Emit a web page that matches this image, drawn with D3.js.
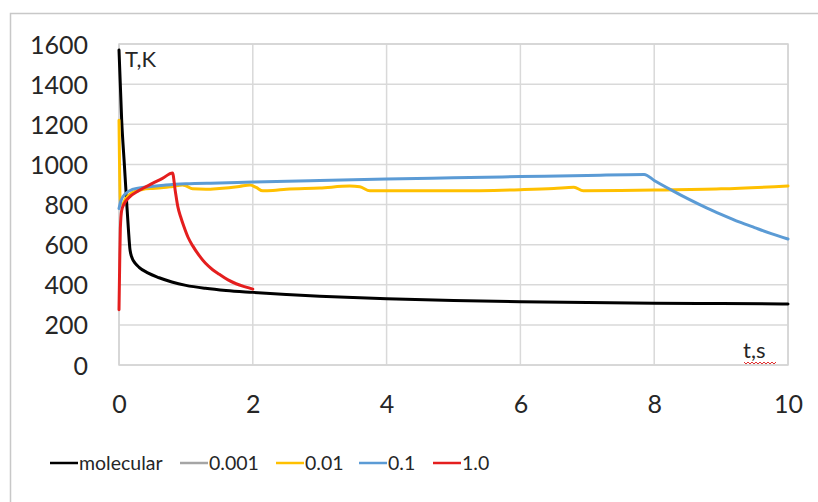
<!DOCTYPE html>
<html><head><meta charset="utf-8">
<script src="https://cdn.jsdelivr.net/npm/d3@7"></script>
<style>
html,body{margin:0;padding:0;background:#fff;}
svg{display:block;font-family:Lato, "Open Sans", sans-serif;}
</style></head>
<body><svg id="c" width="818" height="502"></svg>
<script>
// ---- data ----
const xTicks = [0, 2, 4, 6, 8, 10];
const yTicks = [0, 200, 400, 600, 800, 1000, 1200, 1400, 1600];
const seriesNames = ["molecular", "0.001", "0.01", "0.1", "1.0"];
const seriesColors = ["#000000", "#a5a5a5", "#ffc000", "#5b9bd5", "#e41e1e"];

const molecularT = [0, 0.04, 0.08, 0.115, 0.14, 0.165, 0.2, 0.24, 0.3, 0.43, 0.6, 0.79, 1.0, 1.29, 1.6, 2.0, 2.5, 3.0, 3.5, 4.0, 5.0, 6.0, 7.0, 8.0, 9.0, 10.0];
const molecularV = [1570, 1220, 1000, 808, 680, 573, 530, 508, 487, 459, 435, 414, 397, 382, 371, 362, 352, 343, 336, 330, 321, 315, 311, 308, 306, 304];

const s0001T = [];
const s0001V = [];

const s001T = [0, 0.02, 0.05, 0.1, 0.2, 0.35, 0.5, 0.6, 0.8, 0.95, 1.0, 1.1, 1.3, 1.5, 1.8, 1.96, 2.05, 2.15, 2.3, 2.5, 3.0, 3.45, 3.6, 3.75, 4.0, 5.0, 6.0, 6.5, 6.8, 6.94, 7.5, 8.0, 9.0, 10.0];
const s001V = [1220, 810, 800, 830, 860, 875, 880, 882, 890, 897, 893, 878, 876, 880, 890, 897, 885, 868, 870, 876, 882, 892, 888, 868, 868, 868, 874, 880, 886, 869, 870, 872, 878, 892];

const s01T = [0, 0.03, 0.1, 0.2, 0.4, 0.7, 1.0, 1.5, 2.0, 3.0, 4.0, 5.0, 6.0, 7.0, 7.85, 8.0, 8.28, 8.5, 8.79, 9.0, 9.28, 9.5, 9.75, 10.0];
const s01V = [780, 820, 855, 875, 887, 897, 903, 907, 912, 920, 927, 933, 939, 945, 950, 920, 868, 829, 782, 751, 712, 685, 655, 628];

const s10T = [0, 0.01, 0.02, 0.04, 0.08, 0.15, 0.3, 0.5, 0.65, 0.8, 0.84, 0.88, 0.92, 0.97, 1.03, 1.1, 1.2, 1.29, 1.4, 1.5, 1.63, 1.75, 1.9, 2.0];
const s10V = [275, 500, 680, 770, 805, 835, 870, 905, 930, 957, 870, 788, 740, 690, 638, 595, 545, 508, 475, 452, 424, 405, 388, 378];

const seriesT = [molecularT, s0001T, s001T, s01T, s10T];
const seriesV = [molecularV, s0001V, s001V, s01V, s10V];

// ---- layout ----
const svg = d3.select("#c");
const L = 119, R = 788, T = 44, B = 365;
const x = d3.scaleLinear().domain([0, 10]).range([L, R]);
const y = d3.scaleLinear().domain([0, 1600]).range([B, T]);

// outer chart border
svg.append("rect").attr("x", 10.5).attr("y", 13.5).attr("width", 830).attr("height", 520)
  .attr("fill", "none").attr("stroke", "#c8c8c8").attr("stroke-width", 1.5);

// gridlines
const grid = svg.append("g");
grid.selectAll("line.h").data(yTicks).join("line")
  .attr("x1", L).attr("x2", R).attr("y1", d => y(d)).attr("y2", d => y(d))
  .attr("stroke", "#d9d9d9").attr("stroke-width", 1.5);
grid.selectAll("line.v").data(xTicks).join("line")
  .attr("y1", T).attr("y2", B).attr("x1", d => x(d)).attr("x2", d => x(d))
  .attr("stroke", "#d9d9d9").attr("stroke-width", 1.5);
svg.append("rect").attr("x", L).attr("y", T).attr("width", R - L).attr("height", B - T)
  .attr("fill", "none").attr("stroke", "#d4d4d4").attr("stroke-width", 1.5);

// axes (labels only)
const yAxis = d3.axisLeft(y).tickValues(yTicks).tickFormat(d3.format("d")).tickSize(0).tickPadding(0);
const gy = svg.append("g").attr("transform", `translate(${88},0)`).call(yAxis);
gy.select(".domain").remove();
gy.selectAll("text").attr("font-size", 25).attr("fill", "#262626")
  .attr("font-family", "Lato, sans-serif").attr("dy", "0.36em");

const xAxis = d3.axisBottom(x).tickValues(xTicks).tickFormat(d3.format("d")).tickSize(0).tickPadding(0);
const gx = svg.append("g").attr("transform", `translate(0,${395})`).call(xAxis);
gx.select(".domain").remove();
gx.selectAll("text").attr("font-size", 25).attr("fill", "#262626")
  .attr("font-family", "Lato, sans-serif").attr("dy", "0.71em");

// series
const line = d3.line().x(d => x(d[0])).y(d => y(d[1])).curve(d3.curveMonotoneX);
seriesNames.forEach((n, i) => {
  const pts = seriesT[i].map((t, k) => [t, seriesV[i][k]]);
  if (!pts.length) return;
  svg.append("path").datum(pts).attr("d", line)
    .attr("fill", "none").attr("stroke", seriesColors[i]).attr("stroke-width", 3)
    .attr("stroke-linejoin", "round").attr("stroke-linecap", "round");
});

// axis titles
svg.append("rect").attr("x", 123).attr("y", 45).attr("width", 42).attr("height", 26).attr("fill", "#fff");
svg.append("text").attr("x", 125).attr("y", 67).text("T,K")
  .attr("font-size", 22).attr("fill", "#262626");
svg.append("text").attr("x", 743).attr("y", 358).text("t,s")
  .attr("font-size", 22).attr("fill", "#262626");
// spell-check squiggle
let sq = "M744,362";
for (let k = 0; k < 8; k++) sq += ` l2,2 l2,-2`;
svg.append("path").attr("d", sq).attr("fill", "none").attr("stroke", "#e03030").attr("stroke-width", 1);

// legend
const legX = [50, 180, 276, 359, 433];
const legY = 463;
const lg = svg.append("g");
seriesNames.forEach((n, i) => {
  lg.append("line").attr("x1", legX[i]).attr("x2", legX[i] + 28).attr("y1", legY).attr("y2", legY)
    .attr("stroke", seriesColors[i]).attr("stroke-width", 2.5);
  lg.append("text").attr("x", legX[i] + 29).attr("y", legY).attr("dy", "0.35em")
    .text(n).attr("font-size", 19.5).attr("fill", "#262626");
});
</script></body></html>
